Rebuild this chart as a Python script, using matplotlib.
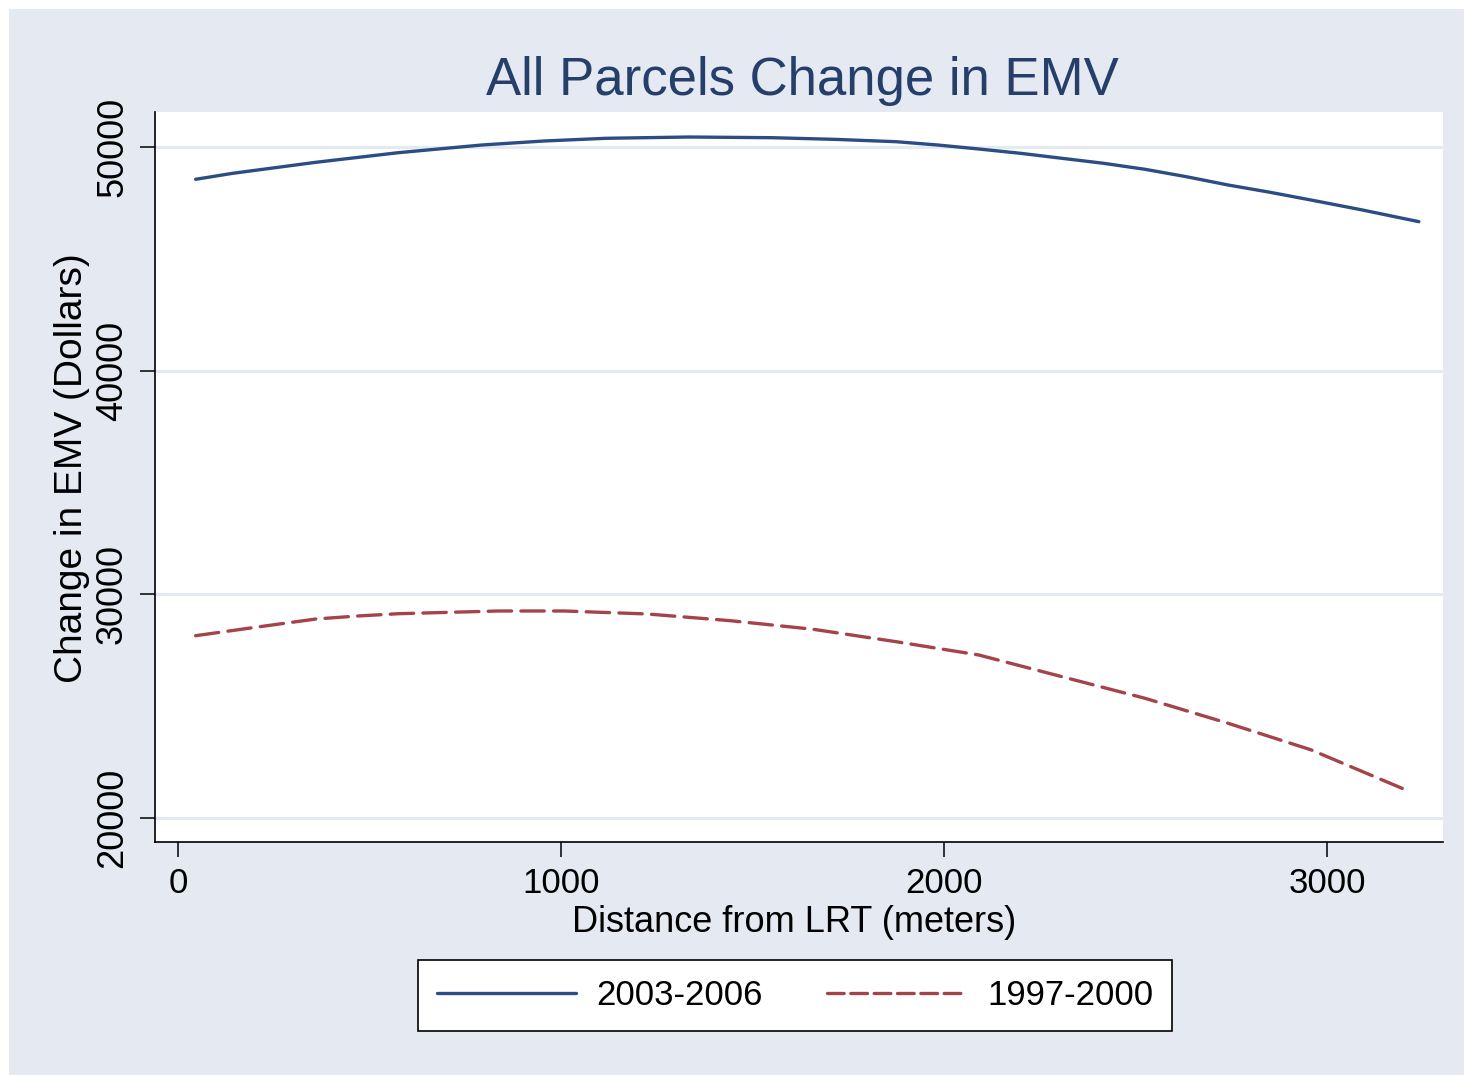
import numpy as np
import matplotlib
matplotlib.use("Agg")
import matplotlib.pyplot as plt
from matplotlib.patches import Rectangle
from matplotlib.lines import Line2D

plt.rcParams['font.family'] = ['Liberation Sans', 'DejaVu Sans']

# values
dist_new = [46, 143, 360, 576, 793, 955, 1117, 1334, 1551, 1713, 1875, 1984, 2091,
            2200, 2308, 2417, 2525, 2633, 2742, 2850, 2958, 3088, 3240]
emv_new = [48556, 48824, 49316, 49747, 50089, 50268, 50389, 50447, 50416, 50343, 50237, 50089, 49911,
           49718, 49495, 49271, 49003, 48672, 48301, 47980, 47631, 47200, 46661]

dist_old = [46, 208, 360, 468, 576, 836, 1009, 1226, 1442, 1659, 1875, 2091, 2308, 2525, 2742, 2958, 3217]
emv_old = [28150, 28540, 28897, 29030, 29134, 29255, 29255, 29121, 28822, 28437, 27883, 27288, 26318,
           25352, 24234, 23050, 21176]

labels = ['2003-2006', '1997-2000']
xticks = [0, 1000, 2000, 3000]
yticks = [20000, 30000, 40000, 50000]

bg = '#E5E9F2'
navy = '#2c4c84'
maroon = '#a4444a'

W, H = 1464, 1075
fig = plt.figure(figsize=(W / 100, H / 100), dpi=100, facecolor='white')
fig.patches.append(Rectangle((9 / W, 0), 1, 1 - 9 / H, transform=fig.transFigure,
                             facecolor=bg, edgecolor='none', zorder=-10))

ax = fig.add_axes([155 / W, 1 - 842 / H, (1443 - 155) / W, (842 - 112) / H])
ax.set_facecolor('white')

ax.plot(dist_new, emv_new, color=navy, lw=2.4, solid_capstyle='round', solid_joinstyle='round', zorder=3)
ax.plot(dist_old, emv_old, color=maroon, lw=2.4, dashes=(7, 2.8), dash_capstyle='round', zorder=3)

ax.set_xlim(-60, 3303)
ax.set_ylim(18927, 51565)
ax.set_xticks(xticks)
ax.set_yticks(yticks)
ax.set_yticklabels([str(v) for v in yticks], rotation=90, va='center')
ax.tick_params(axis='both', direction='out', length=11, width=1.1, color='black')
ax.tick_params(axis='x', labelsize=25, pad=7)
ax.tick_params(axis='y', labelsize=26, pad=7)
ax.grid(axis='y', color=bg, lw=2.3)
ax.set_axisbelow(True)
for s in ['top', 'right']:
    ax.spines[s].set_visible(False)
for s in ['left', 'bottom']:
    ax.spines[s].set_linewidth(1.2)

fig.text(802 / W, 1 - 95 / H, 'All Parcels Change in EMV', ha='center', va='baseline',
         fontsize=38, color='#263f6a')
fig.text(794 / W, 1 - 932 / H, 'Distance from LRT (meters)', ha='center', va='baseline',
         fontsize=26, color='black')
fig.text(72 / W, 1 - 468 / H, 'Change in EMV (Dollars)', ha='center', va='center',
         rotation=90, fontsize=28, color='black')

handles = [Line2D([], [], color=navy, lw=2.4, solid_capstyle='round'),
           Line2D([], [], color=maroon, lw=2.4, dashes=(5, 2), dash_capstyle='round')]
leg = fig.legend(handles, labels, loc='center', bbox_to_anchor=(795 / W, 1 - 995.5 / H),
                 ncol=2, fontsize=25, frameon=True, fancybox=False, framealpha=1,
                 edgecolor='black', handlelength=4.0, handletextpad=0.6,
                 columnspacing=1.85, borderpad=0.55)
leg.get_frame().set_linewidth(1.2)

fig.savefig('out.png', dpi=100, facecolor=fig.get_facecolor())
